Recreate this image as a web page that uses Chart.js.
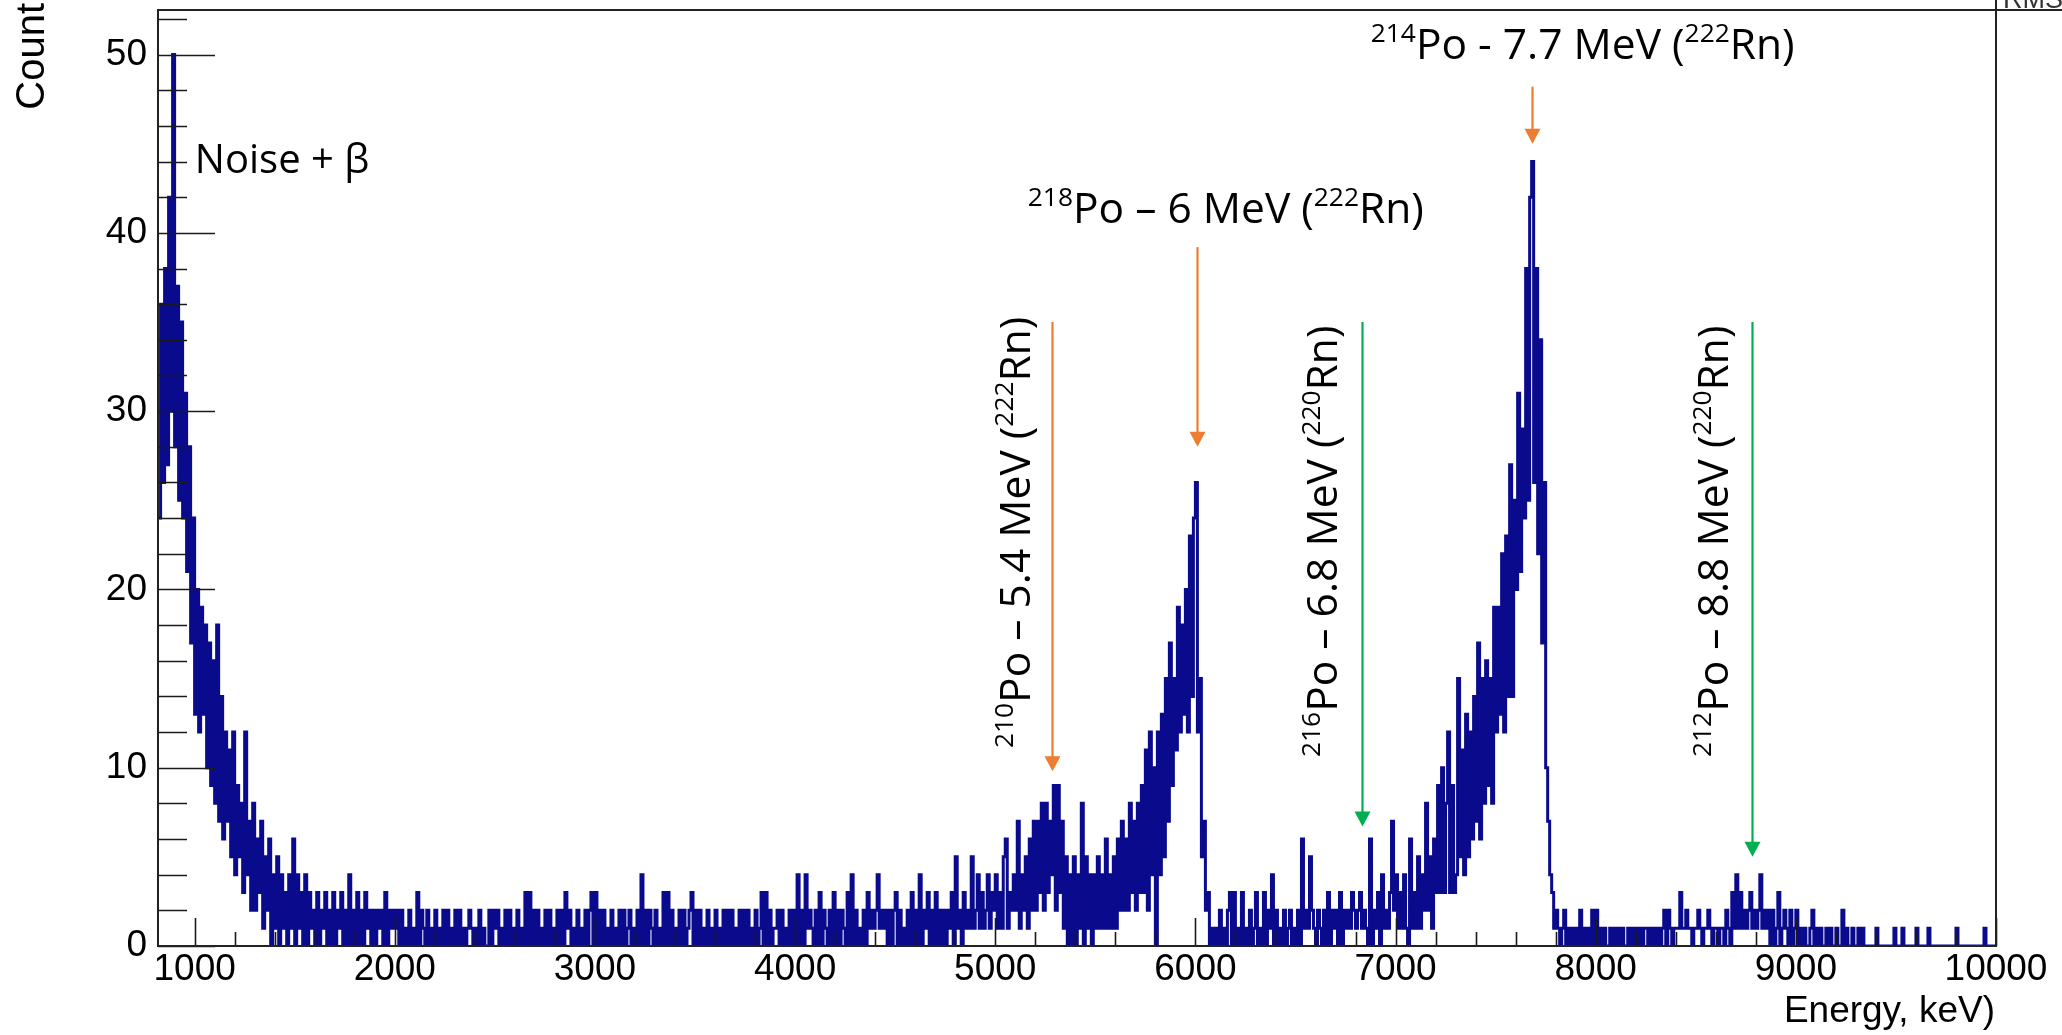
<!DOCTYPE html>
<html>
<head>
<meta charset="utf-8">
<script src="https://cdn.jsdelivr.net/npm/chart.js@4.4.1/dist/chart.umd.min.js"></script>
<style>
  html, body { margin: 0; padding: 0; background: #fff; }
  #wrap { width: 2062px; height: 1035px; position: relative; }
</style>
</head>
<body>
<div id="wrap"><canvas id="spectrum"></canvas></div>
<script>
// histogram binning, keV
const binLow = 820;
const binWidth = 10;

// counts per 10 keV bin (one row = 100 keV, first row starts at 820)
const counts = [
  24, 36, 26, 38, 27, 42, 30, 50,
  28, 37, 25, 35, 24, 31, 21, 28, 17, 24,   // 900
  13, 20, 12, 19, 13, 18, 10, 17, 9, 16,    // 1000
  8, 18, 7, 14, 6, 12, 7, 11, 5, 12,        // 1100
  4, 9, 5, 8, 3, 12, 4, 7, 2, 8,            // 1200
  2, 6, 3, 7, 1, 5, 2, 6, 0, 4,             // 1300
  1, 5, 0, 4, 1, 3, 0, 4, 1, 6,             // 1400
  0, 4, 1, 3, 0, 4, 0, 3, 1, 2,             // 1500
  0, 3, 0, 2, 1, 3, 0, 2, 0, 3,             // 1600
  0, 2, 1, 3, 0, 2, 0, 4, 0, 2,             // 1700
  0, 3, 0, 2, 0, 3, 1, 2, 0, 2,             // 1800
  0, 2, 1, 2, 0, 3, 0, 2, 1, 2,             // 1900
  1, 2, 0, 2, 0, 1, 0, 2, 0, 1,             // 2000
  0, 3, 0, 2, 1, 0, 2, 0, 1, 0,             // 2100
  2, 0, 1, 0, 2, 0, 2, 0, 1, 0,             // 2200
  2, 0, 2, 0, 1, 0, 1, 2, 1, 0,             // 2300
  1, 0, 2, 0, 1, 0, 0, 2, 0, 2,             // 2400
  1, 2, 0, 1, 0, 2, 0, 2, 0, 1,             // 2500
  0, 2, 0, 1, 0, 3, 0, 3, 0, 2,             // 2600
  0, 2, 0, 1, 0, 2, 0, 2, 0, 1,             // 2700
  0, 2, 0, 2, 0, 3, 1, 2, 0, 1,             // 2800
  0, 2, 0, 1, 0, 2, 0, 2, 3, 0,             // 2900
  3, 0, 2, 0, 2, 0, 1, 0, 2, 0,             // 3000
  1, 0, 2, 0, 2, 0, 1, 2, 0, 1,             // 3100
  0, 2, 0, 4, 0, 2, 0, 2, 1, 0,             // 3200
  2, 0, 1, 0, 3, 0, 3, 0, 2, 0,             // 3300
  1, 0, 2, 0, 2, 0, 1, 2, 3, 0,             // 3400
  2, 0, 2, 0, 1, 0, 2, 0, 1, 0,             // 3500
  2, 0, 1, 0, 2, 0, 2, 0, 2, 0,             // 3600
  1, 0, 2, 0, 2, 0, 2, 0, 1, 0,             // 3700
  2, 0, 1, 3, 0, 3, 0, 2, 0, 1,             // 3800
  1, 2, 0, 2, 0, 1, 0, 2, 0, 2,             // 3900
  0, 4, 0, 2, 0, 4, 1, 2, 1, 0,             // 4000
  2, 0, 3, 0, 2, 1, 0, 2, 0, 3,             // 4100
  0, 2, 0, 2, 1, 0, 3, 0, 4, 0,             // 4200
  2, 0, 1, 0, 2, 0, 3, 1, 2, 1,             // 4300
  2, 4, 1, 2, 1, 2, 0, 2, 0, 2,             // 4400
  3, 0, 2, 0, 1, 0, 2, 0, 3, 0,             // 4500
  2, 0, 4, 0, 2, 1, 3, 0, 2, 0,             // 4600
  3, 0, 2, 0, 2, 0, 2, 1, 3, 0,             // 4700
  5, 1, 2, 0, 3, 1, 2, 1, 5, 1,             // 4800
  2, 4, 1, 3, 1, 2, 4, 1, 3, 2,             // 4900
  4, 1, 3, 1, 5, 6, 1, 3, 2, 4,             // 5000
  2, 7, 1, 4, 2, 5, 1, 6, 2, 7,             // 5100
  2, 7, 3, 8, 2, 8, 3, 7, 4, 9,             // 5200
  2, 9, 3, 7, 1, 5, 0, 4, 0, 5,             // 5300
  0, 4, 1, 8, 0, 5, 1, 4, 0, 4,             // 5400
  1, 5, 1, 4, 1, 6, 1, 4, 1, 5,             // 5500
  1, 6, 2, 7, 2, 6, 2, 8, 3, 7,             // 5600
  2, 8, 3, 9, 3, 11, 2, 12, 4, 10,          // 5700
  0, 12, 4, 13, 5, 15, 7, 17, 9, 15,        // 5800
  11, 19, 12, 18, 13, 20, 12, 23, 14, 24,   // 5900
  26, 12, 15, 5, 7, 2, 3, 0, 1, 0,          // 6000
  1, 0, 2, 0, 1, 0, 2, 3, 0, 3,             // 6100
  0, 1, 0, 3, 0, 1, 0, 2, 0, 1,             // 6200
  3, 0, 1, 0, 3, 0, 2, 1, 4, 0,             // 6300
  2, 0, 1, 0, 2, 0, 1, 2, 0, 1,             // 6400
  0, 2, 0, 6, 1, 2, 1, 5, 2, 1,             // 6500
  0, 2, 1, 0, 2, 0, 3, 0, 2, 1,             // 6600
  2, 0, 3, 0, 2, 1, 2, 1, 3, 2,             // 6700
  1, 2, 3, 1, 2, 1, 0, 6, 0, 2,             // 6800
  1, 3, 0, 4, 1, 2, 1, 3, 7, 2,             // 6900
  4, 1, 3, 1, 4, 1, 0, 6, 1, 3,             // 7000
  1, 5, 1, 4, 2, 8, 2, 5, 1, 6,             // 7100
  3, 9, 3, 10, 3, 8, 12, 3, 9, 3,           // 7200
  4, 15, 5, 11, 4, 13, 5, 12, 6, 14,        // 7300
  7, 17, 6, 15, 8, 16, 9, 15, 8, 19,        // 7400
  12, 19, 13, 22, 12, 23, 14, 27, 14, 25,   // 7500
  20, 31, 21, 29, 24, 38, 25, 42, 44, 26,   // 7600
  38, 22, 34, 17, 26, 10, 7, 4, 3, 1,       // 7700
  2, 1, 0, 1, 2, 0, 1, 0, 1, 0,             // 7800
  1, 0, 2, 0, 1, 0, 1, 0, 2, 0,             // 7900
  2, 0, 1, 0, 1, 0, 0, 1, 0, 1,             // 8000
  0, 1, 0, 1, 0, 0, 1, 0, 1, 0,             // 8100
  1, 0, 1, 0, 1, 1, 0, 1, 0, 1,             // 8200
  0, 1, 0, 1, 2, 0, 2, 1, 0, 1,             // 8300
  1, 1, 3, 1, 1, 2, 1, 1, 0, 1,             // 8400
  1, 2, 1, 0, 1, 1, 2, 1, 0, 1,             // 8500
  1, 0, 1, 1, 0, 2, 1, 0, 3, 1,             // 8600
  4, 1, 3, 1, 2, 1, 2, 3, 1, 2,             // 8700
  1, 2, 4, 1, 2, 1, 2, 0, 2, 0,             // 8800
  1, 3, 0, 1, 2, 1, 0, 2, 0, 1,             // 8900
  2, 0, 1, 0, 1, 0, 0, 1, 2, 0,             // 9000
  1, 0, 1, 0, 0, 1, 0, 1, 0, 0,             // 9100
  1, 0, 0, 2, 0, 1, 0, 0, 1, 0,             // 9200
  0, 1, 0, 1, 0, 0, 0, 0, 0, 0,             // 9300
  1, 0, 0, 0, 0, 0, 0, 0, 0, 1,             // 9400
  0, 0, 0, 1, 0, 0, 0, 0, 0, 0,             // 9500
  1, 0, 0, 0, 0, 0, 1, 0, 0, 0,             // 9600
  0, 0, 0, 0, 0, 0, 0, 0, 0, 0,             // 9700
  1, 0, 0, 0, 0, 0, 0, 0, 0, 0,             // 9800
  0, 0, 0, 0, 1, 0, 0, 0, 0, 0              // 9900
];

// axis ticks: labelled (major) values and minor spacing
const xMajorTicks = [1000, 2000, 3000, 4000, 5000, 6000, 7000, 8000, 9000, 10000];
const yMajorTicks = [0, 10, 20, 30, 40, 50];
const xMinorStep = 200;
const yMinorStep = 2;

// peak annotations: energy in keV, ^{...} marks superscripts
const peakLabels = [
  { text: '^{210}Po – 5.4 MeV (^{222}Rn)', energy: 5283, chain: '222Rn' },
  { text: '^{218}Po – 6 MeV (^{222}Rn)',   energy: 6007, chain: '222Rn' },
  { text: '^{216}Po – 6.8 MeV (^{220}Rn)', energy: 6831, chain: '220Rn' },
  { text: '^{214}Po - 7.7 MeV (^{222}Rn)', energy: 7681, chain: '222Rn' },
  { text: '^{212}Po – 8.8 MeV (^{220}Rn)', energy: 8780, chain: '220Rn' }
];

// --- placement of the annotation layer (data coordinates) ---
const chainColor = { '222Rn': '#ed7d31', '220Rn': '#00b050' };
const arrowSpan = {        // arrow top -> tip, in counts
  5283: [35.0, 9.8], 6007: [39.2, 28.0], 6831: [35.0, 6.7], 7681: [48.2, 45.0], 8780: [35.0, 5.0]
};
const labelPlace = {       // centre x keV, baseline y counts
  5283: { x: 5173, y: 23.2, rot: true },
  6007: { x: 6152, y: 40.55, rot: false },
  6831: { x: 6706, y: 22.7, rot: true },
  7681: { x: 7935, y: 49.75, rot: false },
  8780: { x: 8659, y: 22.7, rot: true }
};

const LABEL_FONT = '"Open Sans", "Noto Sans", sans-serif';
const AXIS_FONT = '"Liberation Sans", Arial, sans-serif';

function splitRich(str) {
  const parts = [];
  const re = /\^\{([^}]*)\}|([^^]+)/g;
  let m;
  while ((m = re.exec(str)) !== null) {
    if (m[1] !== undefined) parts.push({ t: m[1], sup: true });
    else parts.push({ t: m[2], sup: false });
  }
  return parts;
}

function drawRich(ctx, str, size, x, y, rot) {
  const parts = splitRich(str);
  ctx.save();
  ctx.translate(x, y);
  if (rot) ctx.rotate(-Math.PI / 2);
  ctx.textBaseline = 'alphabetic';
  ctx.textAlign = 'left';
  let total = 0;
  parts.forEach(p => {
    ctx.font = (p.sup ? size * 0.62 : size) + 'px ' + LABEL_FONT;
    p.w = ctx.measureText(p.t).width;
    total += p.w;
  });
  let cx = -total / 2;
  parts.forEach(p => {
    ctx.font = (p.sup ? size * 0.62 : size) + 'px ' + LABEL_FONT;
    ctx.fillText(p.t, cx, p.sup ? -size * 0.4 : 0);
    cx += p.w;
  });
  ctx.restore();
}

function drawArrow(ctx, px, yTop, yTip, color) {
  const head = 15, half = 8;
  ctx.save();
  ctx.strokeStyle = color;
  ctx.fillStyle = color;
  ctx.lineWidth = 2.2;
  ctx.beginPath();
  ctx.moveTo(px, yTop);
  ctx.lineTo(px, yTip - head + 1);
  ctx.stroke();
  ctx.beginPath();
  ctx.moveTo(px - half, yTip - head);
  ctx.lineTo(px + half, yTip - head);
  ctx.lineTo(px, yTip);
  ctx.closePath();
  ctx.fill();
  ctx.restore();
}

// ROOT-style frame, inward ticks, axis titles and the hand-made annotations
const rootFrame = {
  id: 'rootFrame',
  afterDatasetsDraw(chart) {
    const { ctx, chartArea: a, scales: { x, y } } = chart;
    ctx.save();

    // tick marks pointing into the frame
    ctx.strokeStyle = '#1a1a1a';
    ctx.lineWidth = 1.6;
    ctx.beginPath();
    x.ticks.forEach(t => {
      const px = Math.round(x.getPixelForValue(t.value)) + 0.5;
      const len = xMajorTicks.includes(t.value) ? 28 : 14;
      ctx.moveTo(px, a.bottom);
      ctx.lineTo(px, a.bottom - len);
    });
    y.ticks.forEach(t => {
      const py = Math.round(y.getPixelForValue(t.value)) + 0.5;
      const len = yMajorTicks.includes(t.value) ? 57 : 29;
      ctx.moveTo(a.left, py);
      ctx.lineTo(a.left + len, py);
    });
    ctx.stroke();

    // frame
    ctx.strokeStyle = '#222';
    ctx.lineWidth = 2;
    ctx.strokeRect(a.left, a.top, a.right - a.left, a.bottom - a.top);
    // stats box edge peeking in at the top right
    ctx.beginPath();
    ctx.moveTo(a.right, 0);
    ctx.lineTo(a.right, a.top);
    ctx.lineTo(chart.width, a.top);
    ctx.stroke();
    ctx.fillStyle = '#333';
    ctx.font = '27px ' + AXIS_FONT;
    ctx.textAlign = 'left';
    ctx.textBaseline = 'alphabetic';
    ctx.fillText('RMS', a.right + 7, 8);

    // axis titles
    ctx.fillStyle = '#000';
    ctx.font = '37px ' + AXIS_FONT;
    ctx.textAlign = 'right';
    ctx.fillText('Energy, keV)', a.right - 1, 1022);
    ctx.save();
    ctx.translate(44, 3);
    ctx.rotate(-Math.PI / 2);
    ctx.font = '40px ' + AXIS_FONT;
    ctx.textAlign = 'right';
    ctx.fillText('Count', 0, 0);
    ctx.restore();

    // noise label
    ctx.fillStyle = '#000';
    drawRich(ctx, 'Noise + β', 40, x.getPixelForValue(1437), y.getPixelForValue(43.35), false);

    // peak arrows and labels
    peakLabels.forEach(p => {
      const span = arrowSpan[p.energy];
      const px = Math.round(x.getPixelForValue(p.energy)) + 0.5;
      drawArrow(ctx, px, y.getPixelForValue(span[0]), y.getPixelForValue(span[1]), chainColor[p.chain]);
      const lp = labelPlace[p.energy];
      ctx.fillStyle = '#000';
      drawRich(ctx, p.text, 42.5, x.getPixelForValue(lp.x), y.getPixelForValue(lp.y), lp.rot);
    });

    ctx.restore();
  }
};

const points = counts.map((c, i) => ({ x: binLow + i * binWidth, y: c }));
points.push({ x: binLow + counts.length * binWidth, y: 0 });

function tickValues(from, to, step) {
  const out = [];
  for (let v = from; v <= to; v += step) out.push({ value: v });
  return out;
}

new Chart(document.getElementById('spectrum'), {
  type: 'line',
  data: {
    datasets: [{
      label: 'Energy spectrum',
      data: points,
      parsing: false,
      stepped: true,
      borderColor: '#0a0a8c',
      borderWidth: 3,
      borderJoinStyle: 'miter',
      pointRadius: 0,
      fill: false,
      tension: 0
    }]
  },
  options: {
    responsive: true,
    maintainAspectRatio: false,
    animation: false,
    events: [],
    layout: { padding: { left: 0, right: 66, top: 10, bottom: 0 } },
    plugins: {
      legend: { display: false },
      tooltip: { enabled: false },
      title: { display: false }
    },
    scales: {
      x: {
        type: 'linear',
        min: 817,
        max: 10000,
        grid: { display: false, drawTicks: false },
        border: { display: false },
        afterBuildTicks: s => { s.ticks = tickValues(xMajorTicks[0], xMajorTicks[xMajorTicks.length - 1], xMinorStep); },
        ticks: {
          autoSkip: false,
          maxRotation: 0,
          minRotation: 0,
          padding: 2,
          color: '#000',
          font: { family: AXIS_FONT, size: 37 },
          callback: v => xMajorTicks.includes(v) ? String(v) : ''
        },
        afterFit: s => { s.height = 89; s.paddingLeft = 0; s.paddingRight = 0; }
      },
      y: {
        min: 0,
        max: 52.5,
        grid: { display: false, drawTicks: false },
        border: { display: false },
        afterBuildTicks: s => { s.ticks = tickValues(0, 52, yMinorStep); },
        ticks: {
          autoSkip: false,
          padding: 11,
          color: '#000',
          font: { family: AXIS_FONT, size: 37 },
          callback: v => yMajorTicks.includes(v) ? String(v) : ''
        },
        afterFit: s => { s.width = 158; s.paddingTop = 0; s.paddingBottom = 0; }
      }
    }
  },
  plugins: [rootFrame]
});
</script>
</body>
</html>
